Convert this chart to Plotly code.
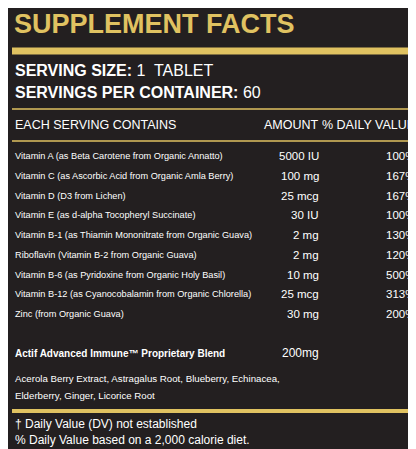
import plotly.graph_objects as go

nutrients = [
    "Vitamin A (as Beta Carotene from Organic Annatto)",
    "Vitamin C (as Ascorbic Acid from Organic Amla Berry)",
    "Vitamin D (D3 from Lichen)",
    "Vitamin E (as d-alpha Tocopheryl Succinate)",
    "Vitamin B-1 (as Thiamin Mononitrate from Organic Guava)",
    "Riboflavin (Vitamin B-2 from Organic Guava)",
    "Vitamin B-6 (as Pyridoxine from Organic Holy Basil)",
    "Vitamin B-12 (as Cyanocobalamin from Organic Chlorella)",
    "Zinc (from Organic Guava)",
]
amounts = ["5000 IU", "100 mg", "25 mcg", "30 IU", "2 mg", "2 mg", "10 mg", "25 mcg", "30 mg"]
daily_values = ["100%", "167%", "167%", "100%", "130%", "120%", "500%", "313%", "200%"]
row_y = [148, 168, 188, 207, 227, 247, 267, 286, 306]

BG = "#231f20"
GOLD = "#e0c261"
FONT = "Liberation Sans"

fig = go.Figure()


def label(x, y, text, size, color="white", anchor="left"):
    fig.add_annotation(x=x, y=y, text=text, showarrow=False, xanchor=anchor, yanchor="middle",
                       xshift=0, font=dict(size=size, color=color, family=FONT))


for name, amt, dv, y in zip(nutrients, amounts, daily_values, row_y):
    label(5, y, name, 9.2)
    label(313, y, amt, 11.5, anchor="right")
    label(409, y, dv, 11.5, anchor="right")

label(4, 16, "<b>SUPPLEMENT FACTS</b>", 27, GOLD)
label(5, 62, "<b>SERVING SIZE:</b> 1  TABLET", 16)
label(5, 84, "<b>SERVINGS PER CONTAINER:</b> 60", 16)
label(5, 117, "EACH SERVING CONTAINS", 12.5)
label(313, 117, "AMOUNT", 12.5, anchor="right")
label(409, 117, "% DAILY VALUE", 12.5, anchor="right")
label(5, 345, "<b>Actif Advanced Immune™ Proprietary Blend</b>", 10)
label(313, 345, "200mg", 12, anchor="right")
label(409, 345, "†", 12, anchor="right")
label(5, 370, "Acerola Berry Extract, Astragalus Root, Blueberry, Echinacea,", 9.7)
label(5, 387, "Elderberry, Ginger, Licorice Root", 9.7)
label(5, 416, "† Daily Value (DV) not established", 12)
label(5, 432, "% Daily Value based on a 2,000 calorie diet.", 12)

for y, w in [(43, 7), (101, 1.5), (133, 1.5), (403, 4), (446, 3)]:
    fig.add_shape(type="line", x0=4, x1=410, y0=y, y1=y, line=dict(color=GOLD, width=w))

fig.update_layout(
    width=416, height=449, margin=dict(l=0, r=0, t=0, b=0),
    paper_bgcolor=BG, plot_bgcolor=BG, showlegend=False,
    xaxis=dict(range=[0, 416], visible=False, fixedrange=True),
    yaxis=dict(range=[449, 0], visible=False, fixedrange=True),
)
fig.write_html("out.html")
